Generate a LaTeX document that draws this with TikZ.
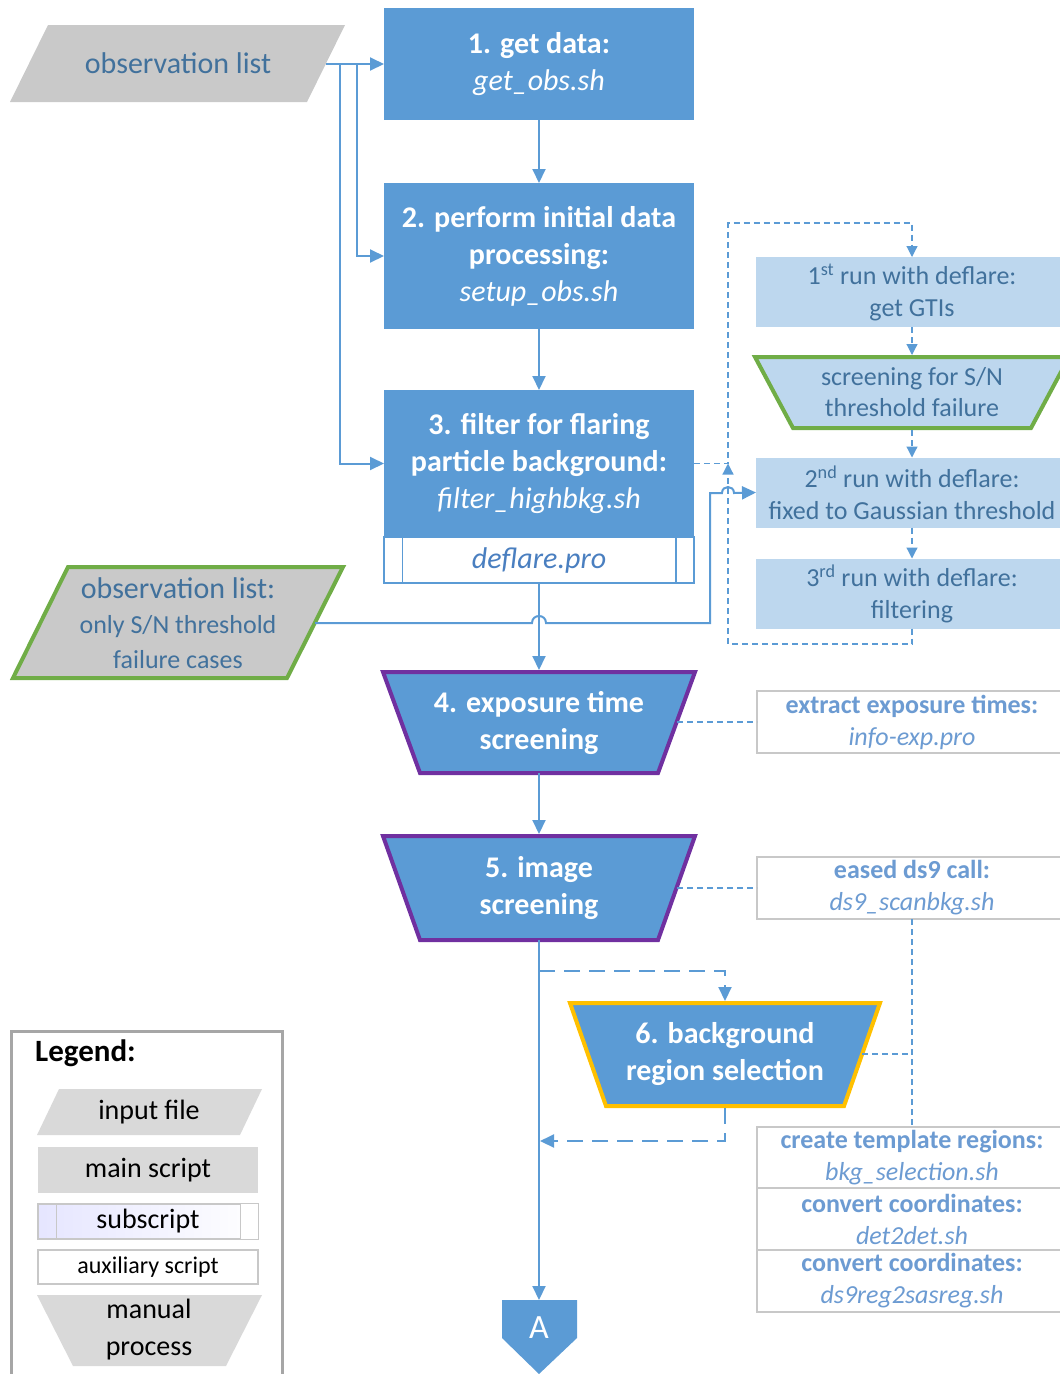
\documentclass[tikz,border=0pt]{standalone}
\usepackage{fontspec}
\setmainfont{Carlito}
\usetikzlibrary{arrows.meta,calc}
\definecolor{mblue}{HTML}{5B9BD5}
\definecolor{lblue}{HTML}{BDD7EE}
\definecolor{tblue}{HTML}{41719C}
\definecolor{ablue}{HTML}{6C9BD2}
\definecolor{dblue}{HTML}{4A7FC0}
\definecolor{obsgray}{HTML}{C9C9C9}
\definecolor{leggray}{HTML}{D9D9D9}
\definecolor{legframe}{HTML}{A6A6A6}
\definecolor{bgreen}{HTML}{70AD47}
\definecolor{bpurple}{HTML}{7030A0}
\definecolor{borange}{HTML}{FFC000}
\definecolor{auxgray}{HTML}{C8C8C8}
\begin{document}
\begin{tikzpicture}[x=1pt,y=-1pt,
  conn/.style={draw=mblue, line width=2pt},
  arr/.style={-{Triangle[length=14pt,width=13pt]}},
  sarr/.style={-{Triangle[length=11pt,width=11pt]}},
  sdash/.style={draw=mblue, line width=1.2pt, dash pattern=on 6pt off 4pt},
  ldash/.style={draw=mblue, line width=2pt, dash pattern=on 16pt off 9pt},
  mainbox/.style={fill=mblue, text=white, font=\fontsize{30}{37}\selectfont\bfseries, align=center, inner sep=0pt, outer sep=0pt, minimum width=310pt},
  maintext/.style={text=white, font=\fontsize{30}{37}\selectfont\bfseries, align=center, inner sep=0pt},
  rbox/.style={fill=lblue, text=tblue, font=\fontsize{26}{32}\selectfont, align=center, inner sep=0pt, outer sep=0pt, minimum width=312pt, minimum height=70pt},
  rtext/.style={text=tblue, font=\fontsize{26}{31}\selectfont, align=center, inner sep=0pt},
  auxbox/.style={draw=auxgray, line width=1.5pt, fill=white, text=ablue, font=\fontsize{26}{32}\selectfont, align=center, inner sep=0pt, outer sep=0pt, minimum width=310pt, minimum height=62pt},
  legtext/.style={text=black, font=\fontsize{28}{37}\selectfont, align=center, inner sep=0pt}
]
\useasboundingbox (0,0) rectangle (1060,1374);
\clip (0,0) rectangle (1060,1374);

% ---------- input: observation list ----------
\fill[obsgray] (48,25) -- (345,25) -- (307,102) -- (10,102) -- cycle;
\node[text=tblue, font=\fontsize{30}{36}\selectfont, inner sep=0pt] (obs1) at (178,63) {observation list};
\coordinate (o1E) at (326,64);
\coordinate (s2) at (357,64);
\coordinate (s3) at (340,64);

% ---------- main boxes ----------
\node[mainbox, minimum height=112pt] (b1) at (539,64) {1. get data:\\ \mdseries\itshape get\_obs.sh};
\node[mainbox, minimum height=146pt] (b2) at (539,256) {2. perform initial data\\ processing:\\ \mdseries\itshape setup\_obs.sh};
\node[mainbox, minimum height=147pt] (b3) at (539,463.5) {3. filter for flaring\\ particle background:\\ \mdseries\itshape filter\_highbkg.sh};
\node[draw=mblue, line width=1.5pt, fill=white, text=dblue, font=\fontsize{30}{36}\selectfont\itshape, inner sep=0pt, minimum width=310pt, minimum height=46pt] (b3s) at (539,560) {deflare.pro};
\draw[mblue, line width=1.5pt] ($(b3s.north west)+(19,0)$) -- ($(b3s.south west)+(19,0)$);
\draw[mblue, line width=1.5pt] ($(b3s.north east)+(-19,0)$) -- ($(b3s.south east)+(-19,0)$);

% ---------- input: observation list (S/N) ----------
\draw[fill=obsgray, draw=bgreen, line width=4pt] (68,567) -- (343,567) -- (287,678) -- (13,678) -- cycle;
\node[text=tblue, font=\fontsize{26}{35}\selectfont, align=center, inner sep=0pt] (obs2) at (178,623) {{\fontsize{30}{35}\selectfont observation list:}\\ only S/N threshold\\ failure cases};
\coordinate (o2E) at (315,623);

% ---------- right column: deflare runs ----------
\node[rbox] (r1) at (912,292) {1\textsuperscript{st} run with deflare:\\ get GTIs};
\draw[fill=lblue, draw=bgreen, line width=4pt] (755,357) -- (1069,357) -- (1031,428) -- (793,428) -- cycle;
\node[rtext] (scr) at (912,392.5) {screening for S/N\\ threshold failure};
\coordinate (scrN) at (912,355);
\coordinate (scrS) at (912,430);
\node[rbox] (r2) at (912,492.5) {2\textsuperscript{nd} run with deflare:\\ fixed to Gaussian threshold};
\node[rbox] (r3) at (912,593.5) {3\textsuperscript{rd} run with deflare:\\ filtering};

% ---------- manual processes ----------
\draw[fill=mblue, draw=bpurple, line width=4pt] (383,672) -- (695,672) -- (658,773) -- (420,773) -- cycle;
\node[maintext] (t4) at (539,722.5) {4. exposure time\\ screening};
\coordinate (t4N) at (539,670);
\coordinate (t4S) at (539,773);
\coordinate (t4E) at (677,722);
\draw[fill=mblue, draw=bpurple, line width=4pt] (383,836) -- (695,836) -- (658,940) -- (420,940) -- cycle;
\node[maintext] (t5) at (539,888) {5. image\\ screening};
\coordinate (t5N) at (539,834);
\coordinate (t5S) at (539,940);
\coordinate (t5E) at (677,888);
\draw[fill=mblue, draw=borange, line width=4pt] (570,1003) -- (880,1003) -- (844,1106) -- (606,1106) -- cycle;
\node[maintext] (t6) at (725,1054.5) {6. background\\ region selection};
\coordinate (t6N) at (725,1001);
\coordinate (t6S) at (725,1108);
\coordinate (t6E) at (862,1054);

% ---------- auxiliary scripts ----------
\node[auxbox] (a1) at (912,722) {\textbf{extract exposure times:}\\ \itshape info-exp.pro};
\node[auxbox] (a2) at (912,888) {\textbf{eased ds9 call:}\\ \itshape ds9\_scanbkg.sh};
\node[auxbox, minimum height=61pt] (a3) at (912,1157.5) {\textbf{create template regions:}\\ \itshape bkg\_selection.sh};
\node[auxbox] (a4) at (912,1219) {\textbf{convert coordinates:}\\ \itshape det2det.sh};
\node[auxbox] (a5) at (912,1281) {\textbf{convert coordinates:}\\ \itshape ds9reg2sasreg.sh};

% ---------- off-page connector ----------
\fill[mblue] (502,1300) -- (577,1300) -- (577,1338) -- (539,1374) -- (502,1338) -- cycle;
\node[text=white, font=\fontsize{34}{40}\selectfont, inner sep=0pt] (A) at (539,1328) {A};
\coordinate (Atop) at (539,1300);

% ---------- solid connectors ----------
\draw[conn, arr] (o1E) -- (b1.west);
\draw[conn, arr] (s2) |- (b2.west);
\draw[conn, arr] (s3) |- (b3.west);
\draw[conn, arr] (b1.south) -- (b2.north);
\draw[conn, arr] (b2.south) -- (b3.north);
\draw[conn, arr] (b3s.south) -- (t4N);
\draw[conn, arr] (t4S) -- (t5N);
\draw[conn, arr] (t5S) -- (Atop);
\draw[conn, arr] (o2E) -- (532,623) .. controls (532,613.7) and (546,613.7) .. (546,623) -- (710,623) -- (710,493) -- (722,493) .. controls (722,485) and (734,485) .. (734,493) -- (r2.west);

% ---------- dashed connectors (deflare loop) ----------
\coordinate (j) at (728,463.5);
\draw[sdash, sarr] (b3.east) -- (j) -- (728,223) -| (r1.north);
\draw[sdash, sarr] (r3.south) -- (912,644) -| (j);
\draw[sdash, sarr] (r1.south) -- (scrN);
\draw[sdash, sarr] (scrS) -- (r2.north);
\draw[sdash, sarr] (r2.south) -- (r3.north);

% ---------- dashed links to auxiliary scripts ----------
\draw[sdash] (t4E) -- (a1.west);
\draw[sdash] (t5E) -- (a2.west);
\draw[sdash] (a2.south) -- (a3.north);
\draw[sdash] (t6E) -- (t6E -| a2.south);

% ---------- dashed links to step 6 ----------
\draw[ldash, arr] (539,971) -| (t6N);
\coordinate (back) at (540,1141);
\draw[ldash, arr] (t6S) |- (back);

% ---------- legend ----------
\draw[draw=legframe, line width=3pt] (11,1031) rectangle (282,1400);
\node[text=black, font=\fontsize{31}{36}\selectfont\bfseries, anchor=west, inner sep=0pt] (lg) at (35,1053) {Legend:};
\fill[leggray] (59,1089) -- (262,1089) -- (240,1135) -- (37,1135) -- cycle;
\node[legtext] (li) at (149,1112) {input file};
\node[legtext, fill=leggray, minimum width=220pt, minimum height=46pt] (lm) at (148,1170) {main script};
\node[draw=auxgray, line width=1.2pt, minimum width=220pt, minimum height=35pt, inner sep=0pt, left color=blue!10, right color=white] (ls) at (148,1221.5) {};
\fill[white] ($(ls.north east)+(-18,0.6)$) rectangle ($(ls.south east)+(-0.6,-0.6)$);
\draw[auxgray, line width=1.2pt] (ls.north west) rectangle (ls.south east);
\draw[auxgray, line width=1.2pt] ($(ls.north west)+(19,0)$) -- ($(ls.south west)+(19,0)$);
\draw[auxgray, line width=1.2pt] ($(ls.north east)+(-18,0)$) -- ($(ls.south east)+(-18,0)$);
\node[legtext] (lst) at (148,1221.5) {subscript};
\node[legtext, draw=auxgray, line width=1.2pt, minimum width=220pt, minimum height=34pt, font=\fontsize{24}{30}\selectfont] (la) at (148,1267) {auxiliary script};
\fill[leggray] (37,1295) -- (262,1295) -- (226,1366) -- (73,1366) -- cycle;
\node[legtext] (lp) at (149,1330) {manual\\ process};
\end{tikzpicture}
\end{document}
